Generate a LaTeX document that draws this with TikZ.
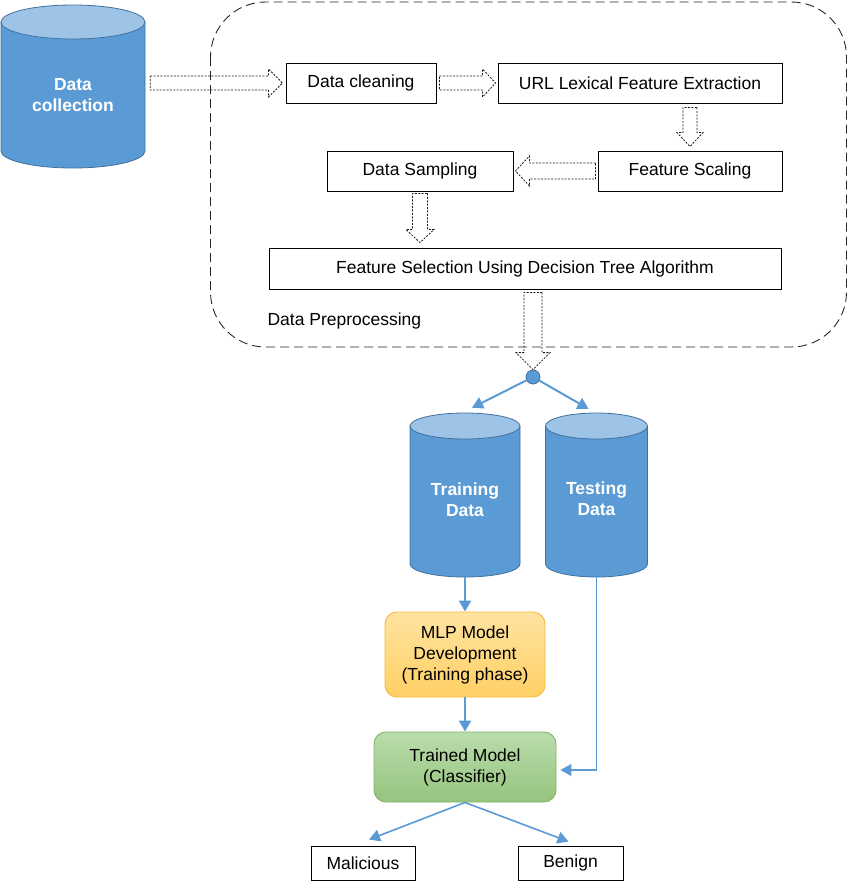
\documentclass[tikz,border=0pt]{standalone}
\usepackage{fontspec}
\setmainfont{Liberation Sans}
\usetikzlibrary{calc,arrows.meta,shapes.geometric}
\definecolor{cylfill}{HTML}{5B9BD5}
\definecolor{cyltop}{HTML}{9DC3E6}
\definecolor{cylline}{HTML}{41719C}
\definecolor{blueln}{HTML}{5B9BD5}
\definecolor{mlptop}{HTML}{FFE3A0}
\definecolor{mlpbot}{HTML}{FFD064}
\definecolor{mlpline}{HTML}{F2BC3A}
\definecolor{grntop}{HTML}{BADCAC}
\definecolor{grnbot}{HTML}{96C47E}
\definecolor{grnline}{HTML}{82B366}
\newcommand\mycyl[5]{%
  \fill[cylfill] (#1-#4,#2) -- (#1-#4,#3) arc[start angle=180,end angle=360,x radius=#4,y radius=#5] -- (#1+#4,#2) -- cycle;
  \draw[cylline,line width=0.8pt] (#1-#4,#2) -- (#1-#4,#3) arc[start angle=180,end angle=360,x radius=#4,y radius=#5] -- (#1+#4,#2);
  \draw[cylline,fill=cyltop,line width=0.8pt] (#1,#2) ellipse[x radius=#4,y radius=#5];
}
% hollow arrows: #1 start, #2 tip, #3 half shaft, #4 half head, #5 head length
\newcommand\hollowR[5]{\draw[hollow] let \p1=#1, \p2=#2 in
  (\x1,\y1+#3) -- (\x2-#5,\y1+#3) -- (\x2-#5,\y1+#4) -- (\x2,\y1) -- (\x2-#5,\y1-#4) -- (\x2-#5,\y1-#3) -- (\x1,\y1-#3) -- cycle;}
\newcommand\hollowL[5]{\draw[hollow] let \p1=#1, \p2=#2 in
  (\x1,\y1+#3) -- (\x2+#5,\y1+#3) -- (\x2+#5,\y1+#4) -- (\x2,\y1) -- (\x2+#5,\y1-#4) -- (\x2+#5,\y1-#3) -- (\x1,\y1-#3) -- cycle;}
\newcommand\hollowD[5]{\draw[hollow] let \p1=#1, \p2=#2 in
  (\x1+#3,\y1) -- (\x1+#3,\y2+#5) -- (\x1+#4,\y2+#5) -- (\x1,\y2) -- (\x1-#4,\y2+#5) -- (\x1-#3,\y2+#5) -- (\x1-#3,\y1) -- cycle;}
\begin{document}
\begin{tikzpicture}[x=1pt,y=1pt,
  font=\fontsize{17.5}{21}\selectfont,
  box/.style={draw,line width=0.9pt,inner sep=0pt,align=center},
  hollow/.style={draw=black!90,line width=0.8pt,dash pattern=on 2pt off 1.4pt},
  bigdash/.style={draw=black!85,line width=0.9pt,dash pattern=on 9pt off 5pt},
  cyltext/.style={text=white,font=\fontsize{17.5}{21}\selectfont\bfseries,align=center},
  ghost/.style={inner sep=0pt},
  blarrow/.style={draw=blueln,line width=2pt,-{Triangle[length=11pt,width=12pt]}},
  thinarrow/.style={draw=blueln,line width=1.2pt,-{Triangle[length=11pt,width=12pt]}},
  outarrow/.style={draw=blueln,line width=1.6pt,-{Triangle[length=11pt,width=12pt]}},
  mlpbox/.style={rounded corners=12pt,top color=mlptop,bottom color=mlpbot,draw=mlpline,line width=0.9pt,align=center,inner sep=0pt},
  grnbox/.style={rounded corners=12pt,top color=grntop,bottom color=grnbot,draw=grnline,line width=0.9pt,align=center,inner sep=0pt}
]
\useasboundingbox (0,0) rectangle (848,-881);

% preprocessing frame
\draw[bigdash,rounded corners=55pt] (210.5,-2) rectangle (846.5,-347);
\node[anchor=west] (prep) at (264,-321) {Data Preprocessing};

% cylinders
\mycyl{73}{-22}{-151}{72}{17}
\node[ghost,minimum width=144pt,minimum height=163pt] (dcC) at (73,-86.5) {};
\node[cyltext] (dc) at (73,-95) {Data\\collection};

\mycyl{465}{-426}{-564}{55}{13}
\node[ghost,minimum width=110pt,minimum height=164pt] (trainC) at (465,-495) {};
\node[cyltext] (train) at (465,-500) {Training\\Data};

\mycyl{596.5}{-426}{-564}{51}{13}
\node[ghost,minimum width=102pt,minimum height=164pt] (testC) at (596.5,-495) {};
\node[cyltext] (test) at (596.5,-499) {Testing\\Data};

% boxes
\node[box,minimum width=150pt,minimum height=40pt] (clean) at (361,-83) {Data cleaning};
\node[box,minimum width=284pt,minimum height=40pt] (url) at (640,-83) {URL Lexical Feature Extraction};
\node[box,minimum width=184pt,minimum height=40pt] (fs) at (690,-171) {Feature Scaling};
\node[box,minimum width=186pt,minimum height=40pt] (ds) at (420,-171) {Data Sampling};
\node[box,minimum width=512pt,minimum height=41pt] (fsel) at (525,-268.5) {Feature Selection Using Decision Tree Algorithm};
\node[mlpbox,minimum width=160pt,minimum height=85pt] (mlp) at (465,-654.5) {MLP Model\\Development\\(Training phase)};
\node[grnbox,minimum width=182pt,minimum height=70pt] (trained) at (465,-767) {Trained Model\\(Classifier)};
\node[box,minimum width=104pt,minimum height=34pt] (mal) at (363,-863) {Malicious};
\node[box,minimum width=105pt,minimum height=34pt] (ben) at (570.5,-863) {Benign};

\node[circle,fill=blueln,draw=cylline,line width=0.8pt,minimum size=14pt,inner sep=0pt] (dot) at (533,-377) {};

% hollow dotted arrows
\hollowR{($(dcC.east |- clean.west)+(5,0)$)}{($(clean.west)+(-3,0)$)}{7}{14}{14}
\hollowR{($(clean.east)+(3,0)$)}{($(url.west)+(-2,0)$)}{7}{14}{13}
\hollowD{($(url.south -| fs.north)+(0,-4)$)}{($(fs.north)+(0,4)$)}{7}{13}{14}
\hollowL{($(fs.west)+(-2,0)$)}{($(ds.east)+(2,0)$)}{8}{15}{14}
\hollowD{($(ds.south)+(0,-2)$)}{($(ds.south |- fsel.north)+(0,5)$)}{7.5}{14}{13}
\hollowD{($(fsel.south -| dot.north)+(0,-3)$)}{($(dot.north)+(0,0)$)}{9}{17}{17}

% blue connectors
\coordinate (tl) at ($(trainC.north)+(7,5)$);
\coordinate (tr) at ($(testC.north)+(-8,4)$);
\draw[blarrow] (dot) -- (tl);
\draw[blarrow] (dot) -- (tr);
\draw[blarrow,line width=2.4pt] (trainC.south) -- (mlp.north);
\draw[blarrow,line width=2.4pt] (mlp.south) -- (trained.north);
\draw[thinarrow] (testC.south) |- ($(trained.east)+(4,-3)$);
\coordinate (ml) at ($(mal.north)+(6,6)$);
\coordinate (bn) at ($(ben.north)+(-2,4)$);
\draw[outarrow] (trained.south) -- (ml);
\draw[outarrow] (trained.south) -- (bn);
\end{tikzpicture}
\end{document}
